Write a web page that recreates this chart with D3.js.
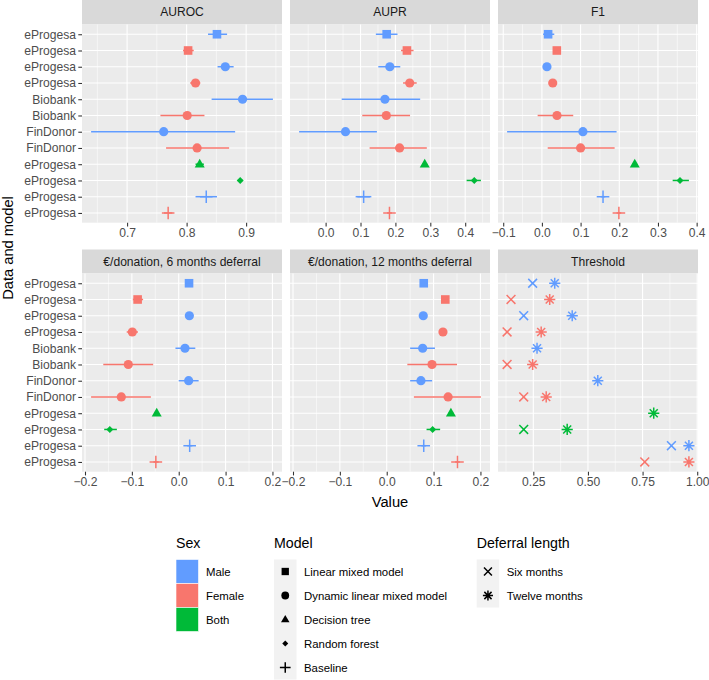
<!DOCTYPE html>
<html>
<head>
<meta charset="utf-8">
<script src="https://cdn.jsdelivr.net/npm/d3@7"></script>
<style>
  html, body { margin: 0; padding: 0; background: #fff; }
  svg { display: block; font-family: "Liberation Sans", Arial, Helvetica, sans-serif; }
</style>
</head>
<body>
<svg id="chart" width="709" height="680"></svg>
<script>
// ---------------- DATA ----------------
const rowLabels = ["eProgesa","eProgesa","eProgesa","eProgesa","Biobank","Biobank","FinDonor","FinDonor","eProgesa","eProgesa","eProgesa","eProgesa"];
const rowSex = ["Male","Female","Male","Female","Male","Female","Male","Female","Both","Both","Male","Female"];
const rowModel = ["Linear mixed model","Linear mixed model","Dynamic linear mixed model","Dynamic linear mixed model",
  "Dynamic linear mixed model","Dynamic linear mixed model","Dynamic linear mixed model","Dynamic linear mixed model",
  "Decision tree","Random forest","Baseline","Baseline"];

const aurocValue = [0.851,0.8025,0.865,0.815,0.894,0.801,0.7615,0.8176,0.822,0.890,0.833,0.769];
const aurocLower = [0.836,0.794,0.852,0.806,0.842,0.756,0.6395,0.7655,0.815,0.886,0.815,0.762];
const aurocUpper = [0.868,0.812,0.879,0.823,0.945,0.830,0.8815,0.8714,0.829,0.894,0.851,0.776];

const auprValue = [0.175,0.233,0.184,0.241,0.170,0.174,0.057,0.212,0.284,0.426,0.109,0.183];
const auprLower = [0.144,0.216,0.151,0.222,0.046,0.105,-0.076,0.126,0.277,0.404,0.086,0.176];
const auprUpper = [0.206,0.252,0.214,0.261,0.271,0.242,0.147,0.290,0.291,0.445,0.131,0.190];

const f1Value = [0.016,0.0386,0.013,0.028,null,0.039,0.106,0.100,0.240,0.357,0.158,0.199];
const f1Lower = [0.003,0.033,0.007,0.022,null,-0.011,-0.090,0.015,0.234,0.338,0.152,0.193];
const f1Upper = [0.032,0.044,0.019,0.034,null,0.081,0.193,0.188,0.246,0.380,0.164,0.205];

const euro6Value = [0.022,-0.0877,0.0227,-0.099,0.0134,-0.1076,0.0212,-0.1225,-0.047,-0.147,0.0234,-0.0488];
const euro6Lower = [0.018,-0.098,0.018,-0.111,-0.007,-0.161,0.0,-0.187,-0.052,-0.159,0.018,-0.054];
const euro6Upper = [0.026,-0.076,0.027,-0.087,0.0354,-0.0545,0.0425,-0.0594,-0.042,-0.132,0.029,-0.043];

const euro12Value = [0.079,0.125,0.078,0.120,0.0767,0.0966,0.073,0.131,0.137,0.098,0.079,0.151];
const euro12Lower = [0.075,0.121,0.074,0.116,0.050,0.044,0.050,0.058,0.132,0.085,0.074,0.146];
const euro12Upper = [0.083,0.129,0.082,0.124,0.103,0.150,0.097,0.201,0.142,0.114,0.084,0.156];

const thresholdSix = [0.247,0.148,0.206,0.130,null,0.130,null,0.206,null,0.206,0.882,0.760];
const thresholdTwelve = [0.348,0.325,0.428,0.286,0.267,0.247,0.545,0.309,0.801,0.405,0.962,0.962];

const aurocTicks = [0.7,0.8,0.9];
const auprTicks = [0.0,0.1,0.2,0.3,0.4];
const f1Ticks = [-0.1,0.0,0.1,0.2,0.3,0.4];
const euroTicks = [-0.2,-0.1,0.0,0.1,0.2];
const thresholdTicks = [0.25,0.50,0.75,1.00];

const sexLevels = ["Male","Female","Both"];
const sexColors = ["#619CFF","#F8766D","#00BA38"];
const modelLevels = ["Linear mixed model","Dynamic linear mixed model","Decision tree","Random forest","Baseline"];
const modelShapes = ["square","circle","triangle","diamond","plus"];
const deferralLevels = ["Six months","Twelve months"];
const deferralShapes = ["cross","asterisk"];

// ---------------- LAYOUT ----------------
const svg = d3.select("#chart");
const colX = [82, 290, 498];
const panelW = 200;
const rowsY = [{stripTop: -2, top: 24.5, bottom: 222.7}, {stripTop: 249.5, top: 273.5, bottom: 471.7}];
const colorScale = d3.scaleOrdinal().domain(sexLevels).range(sexColors);
const shapeScale = d3.scaleOrdinal().domain(modelLevels).range(modelShapes);
const deferralShapeScale = d3.scaleOrdinal().domain(deferralLevels).range(deferralShapes);
const axisFont = 12.1, legendFont = 11.4, titleFont = 14.2;

const minus = s => s.replace("-", "\u2212");
const fmt1 = d => minus(d3.format(".1f")(d));
const fmt2 = d => minus(d3.format(".2f")(d));

function expandDomain(arrs) {
  const all = arrs.flat().filter(v => v != null);
  const lo = d3.min(all), hi = d3.max(all);
  const pad = (hi - lo) * 0.05;
  return [lo - pad, hi + pad];
}
const euroDomain = expandDomain([euro6Lower, euro6Upper, euro12Lower, euro12Upper]);

const panels = [
  {title: "AUROC", col: 0, row: 0, ticks: aurocTicks, fmt: fmt1, domain: expandDomain([aurocLower, aurocUpper, aurocValue]),
   value: aurocValue, lower: aurocLower, upper: aurocUpper},
  {title: "AUPR", col: 1, row: 0, ticks: auprTicks, fmt: fmt1, domain: expandDomain([auprLower, auprUpper, auprValue]),
   value: auprValue, lower: auprLower, upper: auprUpper},
  {title: "F1", col: 2, row: 0, ticks: f1Ticks, fmt: fmt1, domain: expandDomain([f1Lower, f1Upper, f1Value]),
   value: f1Value, lower: f1Lower, upper: f1Upper},
  {title: "\u20ac/donation, 6 months deferral", col: 0, row: 1, ticks: euroTicks, fmt: fmt1, domain: euroDomain,
   value: euro6Value, lower: euro6Lower, upper: euro6Upper},
  {title: "\u20ac/donation, 12 months deferral", col: 1, row: 1, ticks: euroTicks, fmt: fmt1, domain: euroDomain,
   value: euro12Value, lower: euro12Lower, upper: euro12Upper},
  {title: "Threshold", col: 2, row: 1, ticks: thresholdTicks, fmt: fmt2, domain: expandDomain([thresholdSix, thresholdTwelve]),
   threshold: true}
];

// ---------------- SHAPES ----------------
function drawShape(g, shape, cx, cy, color, k) {
  k = k || 1;
  const t = `translate(${cx},${cy}) scale(${k})`;
  if (shape === "square") {
    g.append("rect").attr("x", -4.3).attr("y", -4.3).attr("width", 8.6).attr("height", 8.6)
      .attr("transform", t).attr("fill", color);
  } else if (shape === "circle") {
    g.append("circle").attr("r", 4.6).attr("transform", t).attr("fill", color);
  } else if (shape === "triangle") {
    g.append("path").attr("d", "M0,-5.4L5,3.3L-5,3.3Z").attr("transform", t).attr("fill", color);
  } else if (shape === "diamond") {
    g.append("path").attr("d", "M0,-3.5L3.5,0L0,3.5L-3.5,0Z").attr("transform", t).attr("fill", color);
  } else if (shape === "plus") {
    g.append("path").attr("d", "M-6.3,0H6.3M0,-6.3V6.3").attr("transform", t)
      .attr("stroke", color).attr("stroke-width", 1.5 / k).attr("fill", "none");
  } else if (shape === "cross") {
    g.append("path").attr("d", "M-4.4,-4.4L4.4,4.4M-4.4,4.4L4.4,-4.4").attr("transform", t)
      .attr("stroke", color).attr("stroke-width", 1.5 / k).attr("fill", "none");
  } else if (shape === "asterisk") {
    g.append("path").attr("d", "M-5.6,0H5.6M0,-5.6V5.6M-4,-4L4,4M-4,4L4,-4").attr("transform", t)
      .attr("stroke", color).attr("stroke-width", 1.5 / k).attr("fill", "none");
  }
}

// ---------------- PANELS ----------------
panels.forEach(p => {
  const x0 = colX[p.col], r = rowsY[p.row];
  const x = d3.scaleLinear().domain(p.domain).range([x0, x0 + panelW]);
  const y = d3.scalePoint().domain(d3.range(rowLabels.length)).range([r.top, r.bottom]).padding(0.6);
  const g = svg.append("g");

  // strip
  g.append("rect").attr("x", x0).attr("y", r.stripTop).attr("width", panelW).attr("height", r.top - r.stripTop)
    .attr("fill", "#D9D9D9");
  g.append("text").attr("x", x0 + panelW / 2).attr("y", (Math.max(r.stripTop, 0) + r.top) / 2)
    .attr("text-anchor", "middle").attr("dominant-baseline", "central")
    .attr("font-size", axisFont).attr("fill", "#1A1A1A").text(p.title);

  // panel background
  g.append("rect").attr("x", x0).attr("y", r.top).attr("width", panelW).attr("height", r.bottom - r.top)
    .attr("fill", "#EBEBEB");

  // minor grid
  const tk = p.ticks;
  const step = tk[1] - tk[0];
  const minors = [tk[0] - step / 2];
  for (let i = 0; i < tk.length - 1; i++) minors.push((tk[i] + tk[i + 1]) / 2);
  minors.push(tk[tk.length - 1] + step / 2);
  g.selectAll(".minor").data(minors.filter(v => v > p.domain[0] && v < p.domain[1])).enter().append("line")
    .attr("x1", d => x(d)).attr("x2", d => x(d)).attr("y1", r.top).attr("y2", r.bottom)
    .attr("stroke", "#FFFFFF").attr("stroke-width", 0.55);
  // major grid
  g.selectAll(".majorx").data(tk).enter().append("line")
    .attr("x1", d => x(d)).attr("x2", d => x(d)).attr("y1", r.top).attr("y2", r.bottom)
    .attr("stroke", "#FFFFFF").attr("stroke-width", 1.1);
  g.selectAll(".majory").data(d3.range(rowLabels.length)).enter().append("line")
    .attr("x1", x0).attr("x2", x0 + panelW).attr("y1", d => y(d)).attr("y2", d => y(d))
    .attr("stroke", "#FFFFFF").attr("stroke-width", 1.1);

  // x axis
  const xAxis = d3.axisBottom(x).tickValues(tk).tickFormat(p.fmt).tickSizeInner(3.7).tickSizeOuter(0).tickPadding(2.5);
  const ax = svg.append("g").attr("transform", `translate(0,${r.bottom})`).call(xAxis);
  ax.select(".domain").remove();
  ax.selectAll(".tick line").attr("stroke", "#333333").attr("stroke-width", 1.07);
  ax.selectAll(".tick text").attr("font-size", axisFont).attr("fill", "#4D4D4D")
    .attr("font-family", "Liberation Sans, Arial, sans-serif");

  // y axis for left column
  if (p.col === 0) {
    const yAxis = d3.axisLeft(y).tickFormat(i => rowLabels[i]).tickSizeInner(3.7).tickSizeOuter(0).tickPadding(2.3);
    const ay = svg.append("g").attr("transform", `translate(${x0},0)`).call(yAxis);
    ay.select(".domain").remove();
    ay.selectAll(".tick line").attr("stroke", "#333333").attr("stroke-width", 1.07);
    ay.selectAll(".tick text").attr("font-size", axisFont).attr("fill", "#4D4D4D")
      .attr("font-family", "Liberation Sans, Arial, sans-serif");
  }

  const marks = svg.append("g");
  if (p.threshold) {
    thresholdSix.forEach((v, i) => {
      if (v != null) drawShape(marks, deferralShapeScale("Six months"), x(v), y(i), colorScale(rowSex[i]));
    });
    thresholdTwelve.forEach((v, i) => {
      if (v != null) drawShape(marks, deferralShapeScale("Twelve months"), x(v), y(i), colorScale(rowSex[i]));
    });
  } else {
    p.value.forEach((v, i) => {
      if (v == null) return;
      const c = colorScale(rowSex[i]);
      if (p.lower[i] != null) {
        marks.append("line").attr("x1", x(p.lower[i])).attr("x2", x(p.upper[i]))
          .attr("y1", y(i)).attr("y2", y(i)).attr("stroke", c).attr("stroke-width", 1.5);
      }
      drawShape(marks, shapeScale(rowModel[i]), x(v), y(i), c);
    });
  }
});

// ---------------- AXIS TITLES ----------------
svg.append("text").attr("transform", "translate(8,248) rotate(-90)")
  .attr("text-anchor", "middle").attr("dominant-baseline", "central")
  .attr("font-size", 14.7).attr("fill", "#000").text("Data and model");
svg.append("text").attr("x", (colX[0] + colX[2] + panelW) / 2).attr("y", 501.7)
  .attr("text-anchor", "middle").attr("dominant-baseline", "central")
  .attr("font-size", 14.7).attr("fill", "#000").text("Value");

// ---------------- LEGENDS ----------------
const legTop = 559.5, keyH = 24, keyW = 22.5, titleY = 543.3;
function legendTitle(xp, txt) {
  svg.append("text").attr("x", xp).attr("y", titleY).attr("dominant-baseline", "central")
    .attr("font-size", titleFont).attr("fill", "#000").text(txt);
}
function legendLabel(xp, i, txt) {
  svg.append("text").attr("x", xp).attr("y", legTop + keyH * i + keyH / 2).attr("dominant-baseline", "central")
    .attr("font-size", legendFont).attr("fill", "#000").text(txt);
}
// Sex
legendTitle(176, "Sex");
sexLevels.forEach((s, i) => {
  svg.append("rect").attr("x", 176).attr("y", legTop + keyH * i).attr("width", keyW).attr("height", keyH)
    .attr("fill", colorScale(s)).attr("stroke", "#FFFFFF").attr("stroke-width", 0.6);
  legendLabel(206, i, s);
});
// Model
legendTitle(274, "Model");
svg.append("rect").attr("x", 274).attr("y", legTop).attr("width", keyW).attr("height", keyH * modelLevels.length)
  .attr("fill", "#F2F2F2");
modelLevels.forEach((m, i) => {
  drawShape(svg, shapeScale(m), 274 + keyW / 2, legTop + keyH * i + keyH / 2, "#000000", 0.85);
  legendLabel(304, i, m);
});
// Deferral length
legendTitle(476.7, "Deferral length");
svg.append("rect").attr("x", 476.7).attr("y", legTop).attr("width", keyW).attr("height", keyH * deferralLevels.length)
  .attr("fill", "#F2F2F2");
deferralLevels.forEach((d, i) => {
  drawShape(svg, deferralShapeScale(d), 476.7 + keyW / 2, legTop + keyH * i + keyH / 2, "#000000", 0.9);
  legendLabel(506.7, i, d);
});
</script>
</body>
</html>
